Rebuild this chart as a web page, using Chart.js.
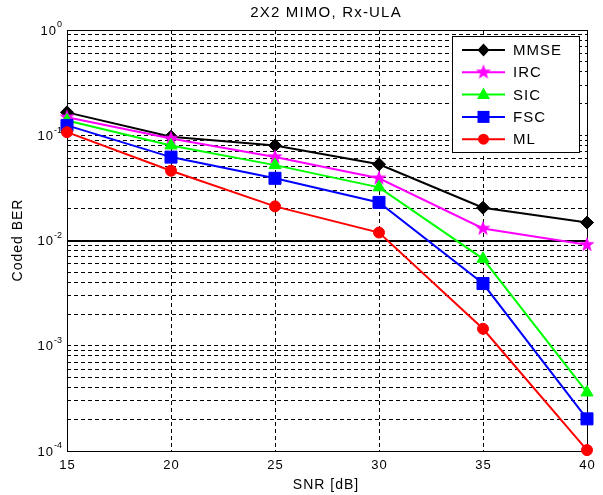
<!DOCTYPE html>
<html>
<head>
<meta charset="utf-8">
<title>2X2 MIMO, Rx-ULA</title>
<script src="https://cdn.jsdelivr.net/npm/chart.js@4.4.1/dist/chart.umd.min.js"></script>
<style>
  html, body { margin: 0; padding: 0; background: #fff; }
  #wrap { width: 603px; height: 495px; }
</style>
</head>
<body>
<div id="wrap"><canvas id="berChart" width="603" height="495"></canvas></div>
<script>
// SNR points and coded BER per receiver
const snr = [15, 20, 25, 30, 35, 40];
const mmse = [0.165, 0.097, 0.080, 0.053, 0.0205, 0.0148];
const irc = [0.148, 0.093, 0.062, 0.039, 0.013, 0.0091];
const sic = [0.138, 0.080, 0.052, 0.032, 0.0067, 0.00036];
const fsc = [0.124, 0.062, 0.039, 0.023, 0.0039, 0.000202];
const ml = [0.107, 0.046, 0.0211, 0.0119, 0.00145, 0.000102];

const seriesNames = ['MMSE', 'IRC', 'SIC', 'FSC', 'ML'];
const xTicks = [15, 20, 25, 30, 35, 40];
const yDecades = [-4, -3, -2, -1, 0];

const FONT = '"Liberation Sans", Arial, Helvetica, sans-serif';

// filled five point star, used as a point style
function makeStar(color, r) {
    const c = document.createElement('canvas');
    const s = Math.ceil(r * 2 + 2);
    c.width = s; c.height = s;
    const g = c.getContext('2d');
    g.fillStyle = color;
    g.beginPath();
    for (let i = 0; i < 10; i++) {
        const rad = i % 2 === 0 ? r : r * 0.42;
        const a = -Math.PI / 2 + i * Math.PI / 5;
        const px = s / 2 + rad * Math.cos(a);
        const py = s / 2 + rad * Math.sin(a);
        if (i === 0) g.moveTo(px, py); else g.lineTo(px, py);
    }
    g.closePath();
    g.fill();
    return c;
}

const starImg = makeStar('#ff00ff', 8);

function line(label, data, color, pointStyle, radius) {
    return {
        label: label,
        data: snr.map((x, i) => ({ x: x, y: data[i] })),
        borderColor: color,
        backgroundColor: color,
        pointBackgroundColor: color,
        pointBorderColor: color,
        borderWidth: 2,
        pointStyle: pointStyle,
        pointRadius: radius,
        pointBorderWidth: 1,
        tension: 0,
        clip: false
    };
}

const datasets = [
    line(seriesNames[0], mmse, '#000000', 'rectRot', 6.5),
    line(seriesNames[1], irc, '#ff00ff', starImg, 8),
    line(seriesNames[2], sic, '#00ff00', 'triangle', 7),
    line(seriesNames[3], fsc, '#0000ff', 'rect', 8.5),
    line(seriesNames[4], ml, '#ff0000', 'circle', 5.5)
];
// later series sit on top
datasets.forEach((d, i) => { d.order = datasets.length - i; });

// minor ticks 1..9 per decade
const yTicks = [];
yDecades.forEach(k => {
    if (k === 0) { yTicks.push(1); return; }
    for (let m = 1; m <= 9; m++) yTicks.push(m * Math.pow(10, k));
});

function drawMarker(ctx, style, x, y, color) {
    ctx.save();
    ctx.fillStyle = color;
    ctx.beginPath();
    if (style === 'rectRot') {
        ctx.moveTo(x, y - 6.5); ctx.lineTo(x + 6, y); ctx.lineTo(x, y + 6.5); ctx.lineTo(x - 6, y);
        ctx.closePath(); ctx.fill();
    } else if (style === 'triangle') {
        ctx.moveTo(x, y - 7); ctx.lineTo(x + 6.5, y + 4.5); ctx.lineTo(x - 6.5, y + 4.5);
        ctx.closePath(); ctx.fill();
    } else if (style === 'rect') {
        ctx.fillRect(x - 6, y - 6, 12, 12);
    } else if (style === 'circle') {
        ctx.arc(x, y, 5.5, 0, Math.PI * 2); ctx.fill();
    } else {
        ctx.drawImage(style, x - style.width / 2, y - style.height / 2);
    }
    ctx.restore();
}

const decorations = {
    id: 'decorations',
    beforeDatasetsDraw(chart) {
        const { ctx, chartArea: a, scales } = chart;
        // solid reference line at 1e-2
        const yy = Math.round(scales.y.getPixelForValue(0.01));
        ctx.save();
        ctx.strokeStyle = '#000';
        ctx.lineWidth = 2;
        ctx.beginPath();
        ctx.moveTo(a.left, yy); ctx.lineTo(a.right, yy);
        ctx.stroke();
        // axes box
        ctx.lineWidth = 1;
        ctx.strokeRect(Math.round(a.left) + 0.5, Math.round(a.top) + 0.5,
            Math.round(a.right - a.left), Math.round(a.bottom - a.top));
        ctx.restore();
    },
    afterDraw(chart) {
        const { ctx, chartArea: a, scales } = chart;
        ctx.save();
        ctx.fillStyle = '#000';
        ctx.textBaseline = 'middle';

        // title
        ctx.font = '15px ' + FONT;
        ctx.letterSpacing = '1.2px';
        ctx.textAlign = 'center';
        ctx.fillText('2X2 MIMO, Rx-ULA', 326, 13);

        // x tick labels
        ctx.font = '13px ' + FONT;
        ctx.letterSpacing = '1px';
        xTicks.forEach(v => {
            ctx.fillText(String(v), scales.x.getPixelForValue(v) + 0.5, a.bottom + 14);
        });

        // y tick labels as powers of ten
        ctx.textAlign = 'right';
        yDecades.forEach(k => {
            const py = scales.y.getPixelForValue(Math.pow(10, k));
            ctx.font = '9px ' + FONT;
            ctx.letterSpacing = '0px';
            const exp = String(k);
            ctx.fillText(exp, 62, py - 5);
            const w = ctx.measureText(exp).width;
            ctx.font = '13px ' + FONT;
            ctx.letterSpacing = '1px';
            ctx.fillText('10', 62 - w, py + 1);
        });

        // axis titles
        ctx.textAlign = 'center';
        ctx.font = '14px ' + FONT;
        ctx.letterSpacing = '1px';
        ctx.fillText('SNR [dB]', 326, 485);
        ctx.save();
        ctx.translate(18, 240);
        ctx.rotate(-Math.PI / 2);
        ctx.fillText('Coded BER', 0, 0);
        ctx.restore();

        // legend
        const lx = 452, ly = 36, lw = 127, lh = 116;
        ctx.fillStyle = '#fff';
        ctx.fillRect(lx, ly, lw, lh);
        ctx.strokeStyle = '#000';
        ctx.lineWidth = 1;
        ctx.strokeRect(lx + 0.5, ly + 0.5, lw, lh);
        ctx.textAlign = 'left';
        ctx.font = '15px ' + FONT;
        ctx.letterSpacing = '1px';
        chart.data.datasets.forEach((d, i) => {
            const ey = 50 + i * 22.3;
            ctx.strokeStyle = d.borderColor;
            ctx.lineWidth = 2;
            ctx.beginPath();
            ctx.moveTo(462, ey); ctx.lineTo(505, ey);
            ctx.stroke();
            drawMarker(ctx, d.pointStyle, 483.5, ey, d.borderColor);
            ctx.fillStyle = '#000';
            ctx.fillText(d.label, 513, ey + 1);
        });
        ctx.restore();
    }
};

const ctxEl = document.getElementById('berChart');
new Chart(ctxEl, {
    type: 'line',
    data: { datasets: datasets },
    options: {
        responsive: false,
        animation: false,
        events: [],
        layout: { padding: { left: 67, top: 30, right: 16, bottom: 44 } },
        plugins: {
            legend: { display: false },
            title: { display: false },
            tooltip: { enabled: false }
        },
        scales: {
            x: {
                type: 'linear',
                min: 15,
                max: 40,
                afterBuildTicks: s => { s.ticks = xTicks.map(v => ({ value: v })); },
                afterFit: s => { s.height = 0; },
                ticks: { display: false },
                grid: { color: '#000', lineWidth: 1, drawTicks: false },
                border: { display: false, dash: [4, 3] }
            },
            y: {
                type: 'logarithmic',
                min: 1e-4,
                max: 1,
                afterBuildTicks: s => { s.ticks = yTicks.map(v => ({ value: v })); },
                afterFit: s => { s.width = 0; },
                ticks: { display: false },
                grid: { color: '#000', lineWidth: 1, drawTicks: false },
                border: { display: false, dash: [4, 3] }
            }
        }
    },
    plugins: [decorations]
});
</script>
</body>
</html>
